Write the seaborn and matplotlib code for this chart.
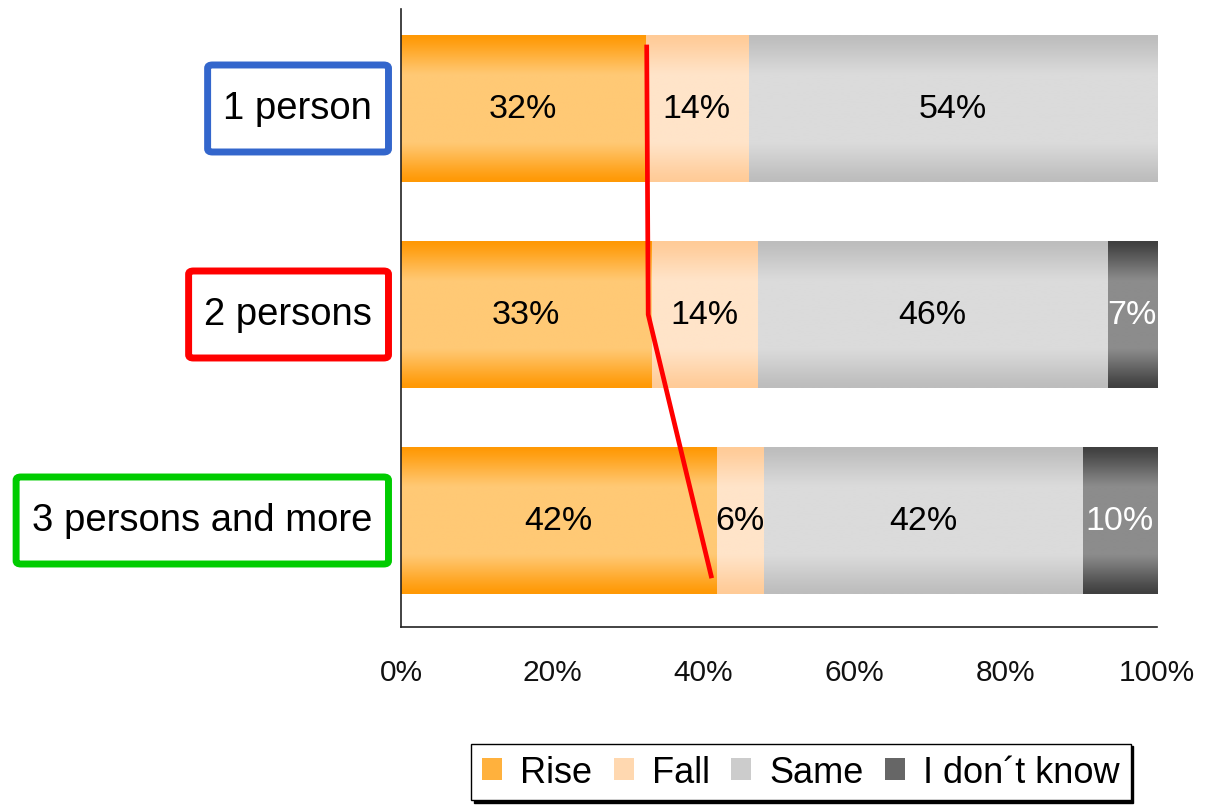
import numpy as np
import pandas as pd
import matplotlib
matplotlib.use('Agg')
import matplotlib.pyplot as plt
import seaborn as sns
from matplotlib.patches import Patch, FancyBboxPatch
from matplotlib.colors import to_rgb

# Household size vs. expected change (shares in %)
groups = ['1 person', '2 persons', '3 persons and more']
series = ['Rise', 'Fall', 'Same', 'I don´t know']
rise = [32.3, 33.1, 41.7]
fall = [13.6, 14.0, 6.2]
same = [54.1, 46.3, 42.3]
dont_know = [0.0, 6.6, 9.8]
xtick_vals = [0, 20, 40, 60, 80, 100]
xtick_labels = ['0%', '20%', '40%', '60%', '80%', '100%']

# hand-drawn red line over the chart (x in %, y in category units)
trend_x = [32.5, 32.7, 41.1]
trend_y = [-0.31, 1.0, 2.28]

box_colors = ['#3366CC', '#FF0000', '#00CC00']
# (edge colour, middle colour) for the vertical gradient of each series
grad_colors = [('#FF9905', '#FFC975'), ('#FFCB97', '#FFE4C9'),
               ('#BDBDBD', '#DBDBDB'), ('#404040', '#8C8C8C')]

sns.set_style('white')
plt.rcParams['font.family'] = ['Liberation Sans', 'DejaVu Sans']

df = pd.DataFrame({'group': groups, 'Rise': rise, 'Fall': fall,
                   'Same': same, 'I don´t know': dont_know})
cum = df[series].cumsum(axis=1)
cum['group'] = groups

fig = plt.figure(figsize=(12.1, 8.12), dpi=100)
ax = fig.add_axes([0.3314, 0.2266, 0.6248, 0.7611])

# stacked bars: draw cumulative totals, longest first
for k in reversed(range(len(series))):
    sns.barplot(data=cum, x=series[k], y='group', orient='h', width=0.71,
                color=grad_colors[k][1], ax=ax, saturation=1)


def gradient(edge, mid, n=64):
    s = np.linspace(0, 1, n)
    t = np.clip(np.sin(np.pi * s) * 1.35, 0, 1) ** 1.2
    e, m = np.array(to_rgb(edge)), np.array(to_rgb(mid))
    return (e[None, :] * (1 - t[:, None]) + m[None, :] * t[:, None])[:, None, :]


n = len(groups)
for j, p in enumerate(ax.patches):
    k = len(series) - 1 - j // n
    x0, y0, w, h = p.get_x(), p.get_y(), p.get_width(), p.get_height()
    if w <= 0:
        continue
    ax.imshow(gradient(*grad_colors[k]), extent=(x0, x0 + w, y0 + h, y0),
              aspect='auto', interpolation='bilinear', zorder=2 + j * 0.01)
    p.set_facecolor('none')
    p.set_edgecolor('none')

# value labels
for i in range(n):
    start = 0
    for k, s in enumerate(series):
        v = df[s][i]
        if v > 0:
            ax.text(start + v / 2, i, f'{round(v)}%', ha='center', va='center',
                    fontsize=24.5, color='white' if k == 3 else 'black',
                    zorder=5)
        start += v

ax.plot(trend_x, trend_y, color='#FF0000', lw=3.4, zorder=6,
        solid_capstyle='butt')

shift = 0.017
ax.set_xlim(0, 100)
ax.set_ylim(2.5 + shift, -0.5 + shift)
ax.set_xticks(xtick_vals)
ax.set_xticklabels(xtick_labels, fontsize=21.5, color='#111111')
ax.set_yticks(np.arange(4) - 0.5 + shift)
ax.set_yticklabels([])
ax.tick_params(axis='x', direction='out', length=7, width=1.2, pad=15,
               color='#222222')
ax.tick_params(axis='y', direction='out', length=9.5, width=1.2,
               color='#222222')
ax.set_xlabel('')
ax.set_ylabel('')
for side in ['top', 'right']:
    ax.spines[side].set_visible(False)
for side in ['left', 'bottom']:
    ax.spines[side].set_linewidth(1.2)
    ax.spines[side].set_color('#222222')

# category labels in coloured boxes
labels = []
for i, g in enumerate(groups):
    t = ax.annotate(g, xy=(0, i), xycoords=('axes fraction', 'data'),
                    xytext=(-29, 0), textcoords='offset pixels',
                    ha='right', va='center', fontsize=27.5, color='black')
    labels.append(t)

fig.canvas.draw()
renderer = fig.canvas.get_renderer()
inv = fig.transFigure.inverted()
for i, t in enumerate(labels):
    bb = t.get_window_extent(renderer)
    cy = ax.transData.transform((0, i))[1]
    x0, x1 = bb.x0 - 15.5, bb.x1 + 16.5
    y0, y1 = cy - 43.5, cy + 43.5
    (fx0, fy0), (fx1, fy1) = inv.transform([(x0, y0), (x1, y1)])
    box = FancyBboxPatch((fx0, fy0), fx1 - fx0, fy1 - fy0,
                         boxstyle='round,pad=0,rounding_size=0.004',
                         transform=fig.transFigure, facecolor='none',
                         edgecolor=box_colors[i], linewidth=5, zorder=1)
    fig.add_artist(box)


def blend(a, b):
    return tuple((np.array(to_rgb(a)) + np.array(to_rgb(b))) / 2)


handles = [Patch(facecolor=blend(*grad_colors[k]), edgecolor='none', label=s)
           for k, s in enumerate(series)]
fig.legend(handles=handles, loc='center', bbox_to_anchor=(0.662, 0.048),
           ncol=4, fontsize=26, frameon=True, fancybox=False,
           shadow={'color': 'black', 'alpha': 1}, edgecolor='black',
           labelcolor='black',
           handlelength=0.55, handleheight=0.55, handletextpad=0.5,
           columnspacing=0.6, borderpad=0.3, borderaxespad=0)

fig.savefig('out.png', dpi=100)
